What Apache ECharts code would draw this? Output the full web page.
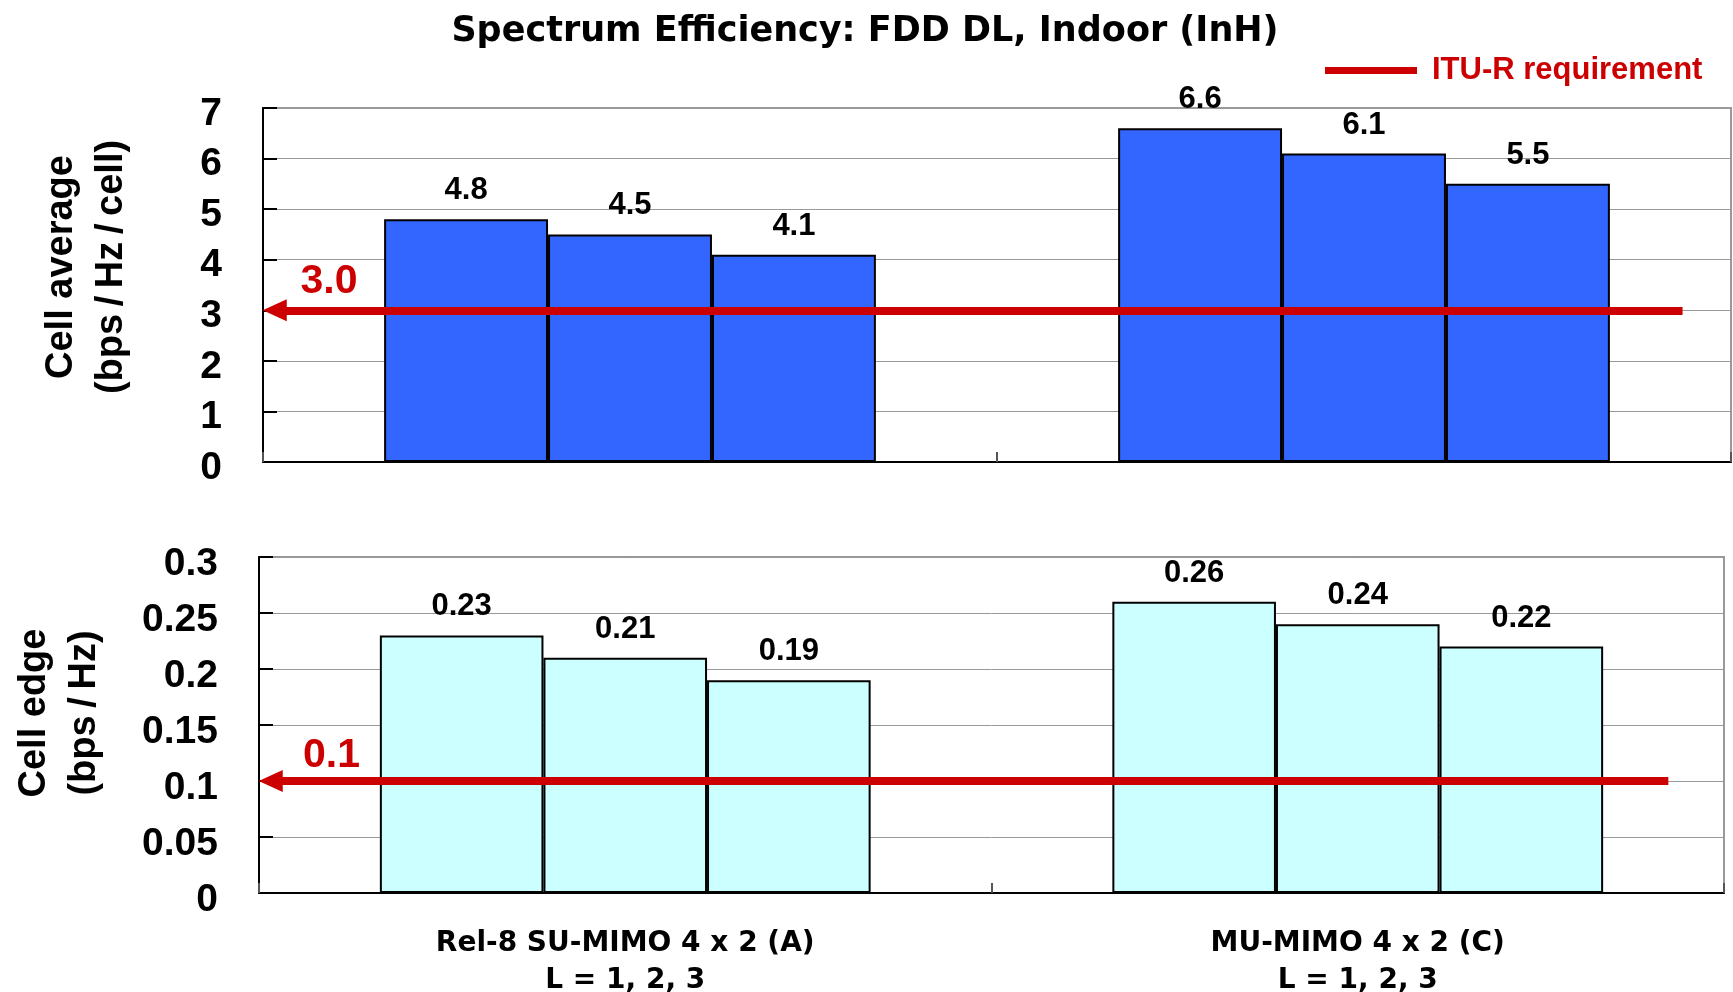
<!DOCTYPE html>
<html>
<head>
<meta charset="utf-8">
<script src="https://cdn.jsdelivr.net/npm/echarts@6/dist/echarts.min.js"></script>
<style>
  html, body { margin: 0; padding: 0; background: #fff; }
  #chart { width: 1733px; height: 992px; }
</style>
</head>
<body>
<div id="chart"></div>
<script>
// Scheme groups on the shared category axis
const categories = ['Rel-8 SU-MIMO 4 x 2 (A)\nL = 1, 2, 3', 'MU-MIMO 4 x 2 (C)\nL = 1, 2, 3'];
const layerNames = ['L = 1', 'L = 2', 'L = 3'];

// Cell average spectrum efficiency (bps/Hz/cell), one array per layer count
const avgL1 = [4.8, 6.6];
const avgL2 = [4.5, 6.1];
const avgL3 = [4.1, 5.5];

// Cell edge spectrum efficiency (bps/Hz)
const edgeL1 = [0.23, 0.26];
const edgeL2 = [0.21, 0.24];
const edgeL3 = [0.19, 0.22];

// ITU-R requirements
const reqAverage = 3.0;
const reqEdge = 0.1;
const reqName = 'ITU-R requirement';

// Y-axis tick ranges
const avgTicks = [0, 7, 1];
const edgeTicks = [0, 0.3, 0.05];

const RED = '#cc0000';
const SANS = '"Liberation Sans", Arial, "Noto Sans CJK JP", sans-serif';
const GOTHIC = '"DejaVu Sans", "Noto Sans CJK JP", sans-serif';

const chart = echarts.init(document.getElementById('chart'));

function barSeries(name, data, gridIdx, color) {
  return {
    type: 'bar',
    name: name,
    xAxisIndex: gridIdx,
    yAxisIndex: gridIdx,
    data: data,
    barGap: '0%',
    barCategoryGap: '33%',
    silent: true,
    itemStyle: { color: color, borderColor: '#000', borderWidth: 2 },
    label: {
      show: true,
      position: 'top',
      distance: 13,
      color: '#000',
      fontFamily: SANS,
      fontWeight: 'bold',
      fontSize: 31
    }
  };
}

function requirementSeries(value, gridIdx, labelX, lineEnd, labelGap) {
  return {
    type: 'scatter',
    name: reqName,
    xAxisIndex: gridIdx + 2,
    yAxisIndex: gridIdx,
    data: [[labelX, value]],
    symbolSize: 1,
    silent: true,
    z: 10,
    itemStyle: { color: 'rgba(0,0,0,0)', opacity: 1 },
    label: {
      show: true,
      position: 'top',
      distance: labelGap,
      formatter: () => value.toFixed(1),
      color: RED,
      opacity: 1,
      fontFamily: SANS,
      fontWeight: 'bold',
      fontSize: 41
    },
    markLine: {
      silent: true,
      symbol: ['triangle', 'none'],
      symbolSize: [22, 24],
      label: { show: false },
      lineStyle: { color: RED, width: 8, type: 'solid', opacity: 1 },
      itemStyle: { color: RED, opacity: 1 },
      emphasis: { disabled: true },
      data: [[{ coord: [0.008, value] }, { coord: [lineEnd, value] }]]
    }
  };
}

function valueAxis(gridIdx, ticks, name, nameGap, shiftUp, labelDrop) {
  return {
    type: 'value',
    gridIndex: gridIdx,
    min: ticks[0],
    max: ticks[1],
    interval: ticks[2],
    name: name,
    nameLocation: 'middle',
    nameRotate: 90,
    nameGap: nameGap,
    nameTextStyle: {
      color: '#000',
      fontFamily: SANS,
      fontWeight: 'bold',
      fontSize: 38,
      lineHeight: 50,
      padding: [0, 0, 0, shiftUp * 2]
    },
    axisLine: { show: true, lineStyle: { color: '#000', width: 2 } },
    axisTick: { show: true, inside: true, length: 14, lineStyle: { color: '#000', width: 2 } },
    axisLabel: {
      color: '#000',
      fontFamily: SANS,
      fontWeight: 'bold',
      fontSize: 39,
      margin: 41,
      // top-aligned short line box: glyphs sit a little below each tick
      verticalAlign: 'top',
      lineHeight: labelDrop * 2
    },
    splitLine: { show: true, lineStyle: { color: '#999', width: 1 } }
  };
}

function categoryAxis(gridIdx, showLabels) {
  return {
    type: 'category',
    gridIndex: gridIdx,
    data: categories,
    axisLine: { show: true, lineStyle: { color: '#000', width: 2 } },
    axisTick: { show: true, inside: true, length: 10, lineStyle: { color: '#555', width: 2 } },
    axisLabel: {
      show: showLabels,
      margin: 32,
      color: '#000',
      fontFamily: GOTHIC,
      fontWeight: 'bold',
      fontSize: 28,
      lineHeight: 37
    },
    splitLine: { show: false }
  };
}

function hiddenX(gridIdx) {
  return { type: 'value', gridIndex: gridIdx, min: 0, max: 1, show: false };
}

chart.setOption({
  backgroundColor: '#fff',
  animation: false,
  title: {
    text: 'Spectrum Efficiency: FDD DL, Indoor (InH)',
    left: 860,
    textAlign: 'center',
    top: 9,
    textStyle: { color: '#000', fontFamily: GOTHIC, fontWeight: 'bold', fontSize: 35 }
  },
  legend: {
    left: 1320,
    top: 50,
    itemWidth: 92,
    itemHeight: 7,
    selectedMode: false,
    data: [{ name: reqName, icon: 'rect', itemStyle: { color: RED, opacity: 1 } }],
    textStyle: {
      color: RED,
      fontFamily: SANS,
      fontWeight: 'bold',
      fontSize: 31,
      padding: [0, 0, 0, 10]
    }
  },
  grid: [
    { left: 263, top: 108, width: 1468, height: 354, outerBoundsMode: 'none', containLabel: false,
      show: true, borderColor: '#999', borderWidth: 2, backgroundColor: '#fff' },
    { left: 259, top: 557, width: 1465, height: 336, outerBoundsMode: 'none', containLabel: false,
      show: true, borderColor: '#999', borderWidth: 2, backgroundColor: '#fff' }
  ],
  xAxis: [categoryAxis(0, false), categoryAxis(1, true), hiddenX(0), hiddenX(1)],
  yAxis: [
    valueAxis(0, avgTicks, 'Cell average\n(bps\u2009/\u2009Hz\u2009/\u2009cell)', 126, 18, 6),
    valueAxis(1, edgeTicks, 'Cell edge\n(bps\u2009/\u2009Hz)', 149, 12, 7)
  ],
  series: [
    barSeries(layerNames[0], avgL1, 0, '#3366ff'),
    barSeries(layerNames[1], avgL2, 0, '#3366ff'),
    barSeries(layerNames[2], avgL3, 0, '#3366ff'),
    barSeries(layerNames[0], edgeL1, 1, '#ccffff'),
    barSeries(layerNames[1], edgeL2, 1, '#ccffff'),
    barSeries(layerNames[2], edgeL3, 1, '#ccffff'),
    requirementSeries(reqAverage, 0, 0.045, 0.967, 8),
    requirementSeries(reqEdge, 1, 0.0495, 0.962, 4)
  ]
});
</script>
</body>
</html>
